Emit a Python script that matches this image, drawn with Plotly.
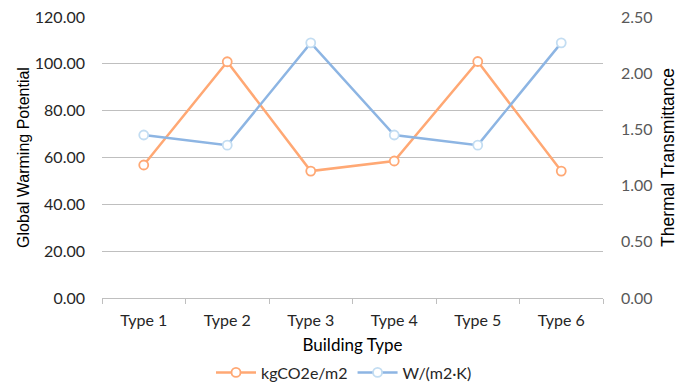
import plotly.graph_objects as go

# Building types and the two measured series
building_types = ["Type 1", "Type 2", "Type 3", "Type 4", "Type 5", "Type 6"]
gwp_values = [56.8, 100.9, 54.2, 58.5, 101.0, 54.2]          # kgCO2e/m2
u_values = [1.45, 1.36, 2.27, 1.45, 1.36, 2.27]              # W/(m2·K)

gwp_ticks = [0, 20, 40, 60, 80, 100, 120]
u_ticks = [0, 0.5, 1.0, 1.5, 2.0, 2.5]

ORANGE = "#FFA874"
ORANGE_MARK = "#FFA874"
BLUE = "#8DB5E3"
BLUE_MARK = "#C3DDF2"
GRID = "#BFBFBF"
LEFT_TICK_FONT = dict(family="Lato, Open Sans, sans-serif", size=16, color="#262626")
RIGHT_TICK_FONT = dict(family="Lato, Open Sans, sans-serif", size=16, color="#595959")
X_TICK_FONT = dict(family="Lato, Open Sans, sans-serif", size=16, color="#262626")
TITLE_FONT = dict(family="Liberation Sans, Arial, sans-serif", size=16, color="#000000")
TITLE_FONT_R = dict(family="Liberation Sans, Arial, sans-serif", size=17.5, color="#000000")

fig = go.Figure()

fig.add_trace(go.Scatter(
    x=building_types, y=gwp_values, name="kgCO2e/m2",
    mode="lines+markers",
    line=dict(color=ORANGE, width=2.5),
    marker=dict(symbol="circle", size=9, color="white",
                line=dict(color=ORANGE_MARK, width=1.8)),
    yaxis="y",
))

fig.add_trace(go.Scatter(
    x=building_types, y=u_values, name="W/(m2·K)",
    mode="lines+markers",
    line=dict(color=BLUE, width=2.5),
    marker=dict(symbol="circle", size=9, color="white",
                line=dict(color=BLUE_MARK, width=1.8)),
    yaxis="y2",
))

fig.update_layout(
    width=688, height=384,
    margin=dict(l=102, r=85, t=17, b=86, autoexpand=False),
    paper_bgcolor="white", plot_bgcolor="white",
    showlegend=True,
    legend=dict(orientation="h", x=0.5, xanchor="center", xref="container",
                y=0.03, yanchor="middle", yref="container",
                font=dict(family="Lato, Open Sans, sans-serif", size=16, color="#262626"),
                itemwidth=40, bgcolor="rgba(0,0,0,0)"),
    xaxis=dict(
        type="category",
        tickson="boundaries",
        ticks="outside", ticklen=5, tickcolor=GRID, tickwidth=1,
        ticklabelstandoff=8,
        showline=True, linecolor=GRID, linewidth=1,
        showgrid=False,
        tickfont=X_TICK_FONT,
        title=dict(text="Building Type",
                   font=dict(family="Lato, Open Sans, sans-serif", size=17, color="#000000"),
                   standoff=13),
        range=[-0.5, 5.5],
    ),
    yaxis=dict(
        range=[0, 120],
        tickvals=gwp_ticks,
        tickformat=".2f",
        showgrid=True, gridcolor=GRID, gridwidth=1,
        zeroline=False, showline=False,
        tickfont=LEFT_TICK_FONT, ticks="", ticklabelstandoff=16,
        title=dict(text="Global Warming Potential", font=TITLE_FONT, standoff=1),
    ),
    yaxis2=dict(
        range=[0, 2.5],
        tickvals=u_ticks,
        tickformat=".2f",
        overlaying="y", side="right",
        showgrid=False, zeroline=False, showline=False,
        tickfont=RIGHT_TICK_FONT, ticks="", ticklabelstandoff=17,
        title=dict(text="Thermal Transmittance", font=TITLE_FONT_R, standoff=10),
    ),
)

fig.write_html("out.html")
